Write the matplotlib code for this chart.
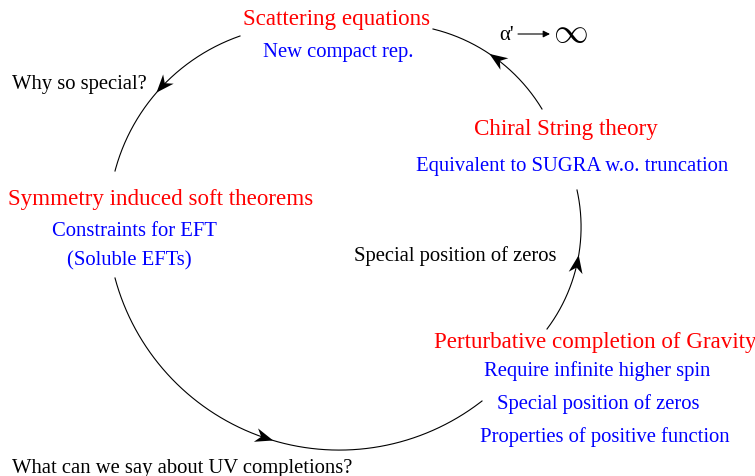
import numpy as np
import matplotlib.pyplot as plt
from matplotlib.patches import Polygon

plt.rcParams['font.family'] = ['Liberation Serif', 'DejaVu Serif']

# arcs of the cycle: start, a point on the way, end (pixel coords, y down)
arcs = [
    [(240, 37), (157, 93), (115, 172)],
    [(115, 279), (333, 451), (482, 402)],
    [(547, 330), (581, 233), (577, 191)],
    [(542, 110), (498, 61), (433, 30)],
]
# arrow tips on each arc
tips = [(157, 94), (273, 440), (576, 256), (490, 54)]

# labels: text, x (left), baseline y, colour, size
labels = [
    ("Scattering equations", 243, 25.5, 'red', 16.6),
    ("New compact rep.", 263, 57, 'blue', 14.9),
    ("Why so special?", 12, 89, 'black', 14.9),
    ("Chiral String theory", 474, 135.5, 'red', 16.6),
    ("Equivalent to SUGRA w.o. truncation", 416, 171, 'blue', 14.9),
    ("Symmetry induced soft theorems", 8, 205.5, 'red', 16.6),
    ("Constraints for EFT", 52, 236, 'blue', 14.9),
    ("(Soluble EFTs)", 67, 265, 'blue', 14.9),
    ("Special position of zeros", 354, 261, 'black', 14.9),
    ("Perturbative completion of Gravity", 434, 348.5, 'red', 16.6),
    ("Require infinite higher spin", 484, 376, 'blue', 14.9),
    ("Special position of zeros", 497, 409, 'blue', 14.9),
    ("Properties of positive function", 480, 442, 'blue', 14.9),
    ("What can we say about UV completions?", 12, 473, 'black', 14.9),
]


def circle3(p1, p2, p3):
    (x1, y1), (x2, y2), (x3, y3) = p1, p2, p3
    d = 2 * (x1 * (y2 - y3) + x2 * (y3 - y1) + x3 * (y1 - y2))
    ux = ((x1**2 + y1**2) * (y2 - y3) + (x2**2 + y2**2) * (y3 - y1) + (x3**2 + y3**2) * (y1 - y2)) / d
    uy = ((x1**2 + y1**2) * (x3 - x2) + (x2**2 + y2**2) * (x1 - x3) + (x3**2 + y3**2) * (x2 - x1)) / d
    r = np.hypot(x1 - ux, y1 - uy)
    return ux, uy, r


def arc_points(p1, p2, p3, n=200):
    cx, cy, r = circle3(p1, p2, p3)
    a1 = np.arctan2(p1[1] - cy, p1[0] - cx)
    a2 = np.arctan2(p2[1] - cy, p2[0] - cx)
    a3 = np.arctan2(p3[1] - cy, p3[0] - cx)
    # go from a1 to a3 through a2
    d12 = (a2 - a1) % (2 * np.pi)
    d13 = (a3 - a1) % (2 * np.pi)
    if d12 > d13:
        d13 = d13 - 2 * np.pi
    t = a1 + np.linspace(0, d13, n)
    return cx + r * np.cos(t), cy + r * np.sin(t)


def arrow_head(ax, xs, ys, tip, L=18, W=7, notch=5.5):
    i = np.argmin(np.hypot(xs - tip[0], ys - tip[1]))
    i = max(i, 3)
    dx, dy = xs[i] - xs[i - 3], ys[i] - ys[i - 3]
    n = np.hypot(dx, dy)
    ux, uy = dx / n, dy / n
    px, py = -uy, ux
    tx, ty = xs[i], ys[i]
    bx, by = tx - L * ux, ty - L * uy
    pts = [(tx, ty),
           (bx + W * px, by + W * py),
           (tx - (L - notch) * ux, ty - (L - notch) * uy),
           (bx - W * px, by - W * py)]
    ax.add_patch(Polygon(pts, closed=True, color='black', lw=0))


fig = plt.figure(figsize=(7.55, 4.77), dpi=100)
ax = fig.add_axes([0, 0, 1, 1])
ax.set_xlim(0, 755)
ax.set_ylim(477, 0)
ax.axis('off')

for arc, tip in zip(arcs, tips):
    xs, ys = arc_points(*arc)
    ax.plot(xs, ys, color='black', lw=0.8)
    arrow_head(ax, xs, ys, tip)

for txt, x, y, c, s in labels:
    ax.text(x, y, txt, color=c, fontsize=s, ha='left', va='baseline')

# alpha' -> infinity
ax.text(499, 40, "α'", fontsize=15, ha='left', va='baseline')
ax.annotate('', xy=(550, 35), xytext=(518, 35),
            arrowprops=dict(arrowstyle='-|>', color='black', lw=0.8,
                            mutation_scale=10, shrinkA=0, shrinkB=0))
ax.text(553, 42, r"$\infty$", fontsize=25, ha='left', va='baseline',
        math_fontfamily='cm')

fig.savefig('out.png', dpi=100)
